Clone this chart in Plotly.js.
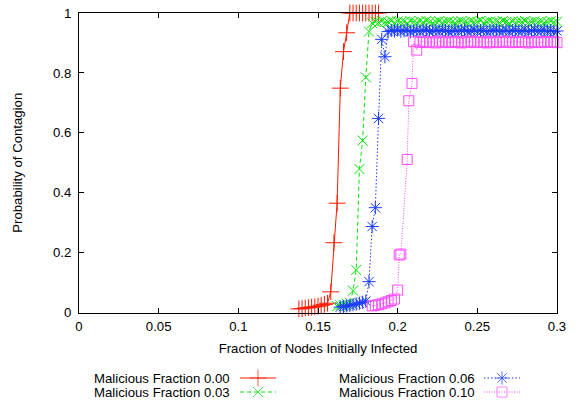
<!DOCTYPE html>
<html>
<head>
<meta charset="utf-8">
<script src="https://cdn.plot.ly/plotly-3.0.1.min.js"></script>
<style>html,body{margin:0;padding:0;background:#fff;}#chart{width:579px;height:403px;}</style>
</head>
<body>
<div id="chart"></div>
<script>
// ---- data ----
const seriesNames = ["Malicious Fraction 0.00", "Malicious Fraction 0.03", "Malicious Fraction 0.06", "Malicious Fraction 0.10"];

const red00X = [0.138,0.140,0.142,0.144,0.146,0.148,0.150,0.152,0.154,0.156,0.158,0.160,0.162,0.164,0.166,0.168,0.170,0.172,0.174,0.176,0.178,0.180,0.182,0.184,0.186,0.188];
const red00Y = [0.012,0.013,0.015,0.016,0.018,0.019,0.021,0.024,0.027,0.031,0.069,0.233,0.365,0.749,0.871,0.934,1,1,1,1,1,1,1,1,1,1];

const green03RiseX = [0.162,0.164,0.166,0.168,0.170,0.172,0.174,0.176,0.178,0.180,0.182];
const green03RiseY = [0.021,0.024,0.026,0.029,0.032,0.073,0.142,0.479,0.574,0.785,0.938];
const green03FlatX = [0.184,0.186,0.188,0.190,0.192,0.194,0.196,0.198,0.200,0.202,
  0.204,0.206,0.208,0.210,0.212,0.214,0.216,0.218,0.220,0.222,
  0.224,0.226,0.228,0.230,0.232,0.234,0.236,0.238,0.240,0.242,
  0.244,0.246,0.248,0.250,0.252,0.254,0.256,0.258,0.260,0.262,
  0.264,0.266,0.268,0.270,0.272,0.274,0.276,0.278,0.280,0.282,
  0.284,0.286,0.288,0.290,0.292,0.294,0.296,0.298,0.300];
const green03FlatY = [0.966,0.971,0.968,0.973,0.969,0.970,0.974,0.967,0.972,0.969,
  0.971,0.966,0.973,0.970,0.968,0.972,0.969,0.974,0.970,0.967,
  0.971,0.973,0.968,0.970,0.972,0.969,0.966,0.971,0.973,0.970,
  0.968,0.972,0.969,0.971,0.974,0.967,0.970,0.972,0.969,0.971,
  0.968,0.973,0.970,0.966,0.972,0.969,0.971,0.970,0.973,0.968,
  0.970,0.972,0.969,0.971,0.967,0.970,0.973,0.969,0.971];

const blue06RiseX = [0.164,0.166,0.168,0.170,0.172,0.174,0.176,0.178,0.180,0.182,0.184,0.186,0.188,0.190,0.192];
const blue06RiseY = [0.018,0.020,0.022,0.024,0.026,0.028,0.031,0.034,0.038,0.103,0.287,0.350,0.648,0.912,0.854];
const blue06FlatX = [0.194,0.196,0.198,0.200,0.202,0.204,0.206,0.208,0.210,0.212,
  0.214,0.216,0.218,0.220,0.222,0.224,0.226,0.228,0.230,0.232,
  0.234,0.236,0.238,0.240,0.242,0.244,0.246,0.248,0.250,0.252,
  0.254,0.256,0.258,0.260,0.262,0.264,0.266,0.268,0.270,0.272,
  0.274,0.276,0.278,0.280,0.282,0.284,0.286,0.288,0.290,0.292,
  0.294,0.296,0.298,0.300];
const blue06FlatY = [0.938,0.942,0.940,0.944,0.939,0.941,0.943,0.937,0.940,0.942,
  0.939,0.941,0.944,0.938,0.940,0.942,0.939,0.943,0.941,0.938,
  0.940,0.942,0.939,0.941,0.944,0.938,0.940,0.943,0.939,0.941,
  0.942,0.938,0.940,0.941,0.943,0.939,0.940,0.942,0.938,0.941,
  0.943,0.939,0.940,0.942,0.938,0.941,0.944,0.939,0.940,0.942,
  0.939,0.941,0.938,0.940];

const pink10RiseX = [0.184,0.186,0.188,0.190,0.192,0.194,0.196,0.198,0.200,0.201,0.202,0.206,0.207,0.209,0.210,0.212];
const pink10RiseY = [0.022,0.024,0.026,0.029,0.032,0.036,0.040,0.045,0.075,0.192,0.195,0.511,0.707,0.765,0.904,0.876];
const pink10FlatX = [0.214,0.216,0.218,0.220,0.222,0.224,0.226,0.228,0.230,0.232,
  0.234,0.236,0.238,0.240,0.242,0.244,0.246,0.248,0.250,0.252,
  0.254,0.256,0.258,0.260,0.262,0.264,0.266,0.268,0.270,0.272,
  0.274,0.276,0.278,0.280,0.282,0.284,0.286,0.288,0.290,0.292,
  0.294,0.296,0.298,0.300];
const pink10FlatY = [0.902,0.905,0.901,0.904,0.903,0.900,0.906,0.902,0.904,0.901,
  0.903,0.905,0.902,0.900,0.904,0.903,0.906,0.901,0.903,0.904,
  0.902,0.900,0.905,0.903,0.901,0.904,0.902,0.906,0.903,0.901,
  0.904,0.902,0.903,0.905,0.900,0.903,0.904,0.902,0.901,0.905,
  0.903,0.902,0.904,0.901];

const xTickVals = [0, 0.05, 0.1, 0.15, 0.2, 0.25, 0.3];
const xTickText = ["0", "0.05", "0.1", "0.15", "0.2", "0.25", "0.3"];
const yTickVals = [0, 0.2, 0.4, 0.6, 0.8, 1];
const yTickText = ["0", "0.2", "0.4", "0.6", "0.8", "1"];

// ---- styling ----
const W = 579, H = 403;
const FONT = '"Liberation Sans", Arial, Helvetica, sans-serif';
const FS = 13.2;
const styles = [
  {color: '#ff1a00', dash: 'solid',      symbol: 'cross-thin-open', size: 12},
  {color: '#00e600', dash: '4px,3px',    symbol: 'x-thin-open',     size: 10},
  {color: '#1a3cff', dash: '1.5px,2px',  symbol: 'asterisk-open',   size: 11},
  {color: '#ff4dff', dash: '1px,1.5px',  symbol: 'square-open',     size: 10}
];
const seriesX = [red00X, green03RiseX.concat(green03FlatX), blue06RiseX.concat(blue06FlatX), pink10RiseX.concat(pink10FlatX)];
const seriesY = [red00Y, green03RiseY.concat(green03FlatY), blue06RiseY.concat(blue06FlatY), pink10RiseY.concat(pink10FlatY)];

const traces = [];
for (let i = 0; i < 4; i++) {
  const s = styles[i];
  traces.push({
    type: 'scatter', mode: 'lines+markers', name: seriesNames[i],
    x: seriesX[i], y: seriesY[i], xaxis: 'x', yaxis: 'y',
    line: {color: s.color, width: 1, dash: s.dash},
    marker: {symbol: s.symbol, size: s.size, color: s.color, line: {color: s.color, width: 1}},
    cliponaxis: false, hoverinfo: 'skip', showlegend: false
  });
}

// custom key (text left of sample, two columns) drawn on a pixel-scaled helper axis
const keyCols = [{textRight: 232, x0: 240, x1: 276}, {textRight: 477, x0: 484, x1: 520}];
const keyRows = [378, 392];
const keyPos = [[0,0],[0,1],[1,0],[1,1]]; // [col,row] for each series
const annotations = [];
for (let i = 0; i < 4; i++) {
  const s = styles[i];
  const c = keyCols[keyPos[i][0]], r = keyRows[keyPos[i][1]];
  traces.push({
    type: 'scatter', mode: 'lines+markers', xaxis: 'x2', yaxis: 'y2',
    x: [c.x0, (c.x0 + c.x1) / 2, c.x1], y: [r, r, r],
    line: {color: s.color, width: 1, dash: s.dash},
    marker: {symbol: s.symbol, size: [0, s.size, 0], color: s.color, line: {color: s.color, width: 1}},
    cliponaxis: false, hoverinfo: 'skip', showlegend: false
  });
  annotations.push({
    xref: 'x2', yref: 'y2', x: c.textRight, y: r, xanchor: 'right', yanchor: 'middle',
    text: seriesNames[i], showarrow: false, font: {family: FONT, size: FS, color: '#000'}
  });
}

const axisCommon = {
  ticks: 'inside', ticklen: 5, tickwidth: 1, tickcolor: '#000',
  mirror: 'allticks', showline: true, linecolor: '#000', linewidth: 1,
  showgrid: false, zeroline: false, automargin: false,
  tickfont: {family: FONT, size: FS, color: '#000'}
};

const layout = {
  width: W, height: H, margin: {l: 0, r: 0, t: 0, b: 0, pad: 0},
  paper_bgcolor: '#fff', plot_bgcolor: 'rgba(0,0,0,0)', showlegend: false,
  font: {family: FONT, size: FS, color: '#000'},
  xaxis: Object.assign({}, axisCommon, {
    domain: [79 / W, 557 / W], range: [0, 0.3], tickmode: 'array', tickvals: xTickVals, ticktext: xTickText,
    anchor: 'y', ticklabelstandoff: 2,
    title: {text: 'Fraction of Nodes Initially Infected', font: {family: FONT, size: FS, color: '#000'}, standoff: 10}
  }),
  yaxis: Object.assign({}, axisCommon, {
    domain: [(H - 312.5) / H, (H - 13) / H], range: [0, 1], tickmode: 'array', tickvals: yTickVals, ticktext: yTickText,
    anchor: 'x', ticklabelstandoff: 4,
    title: {text: 'Probability of Contagion', font: {family: FONT, size: FS, color: '#000'}, standoff: 27}
  }),
  xaxis2: {domain: [0, 1], range: [0, W], visible: false, anchor: 'y2', fixedrange: true},
  yaxis2: {domain: [0, 1], range: [H, 0], visible: false, anchor: 'x2', fixedrange: true},
  annotations: annotations
};

Plotly.newPlot('chart', traces, layout, {staticPlot: true, displayModeBar: false});
</script>
</body>
</html>
